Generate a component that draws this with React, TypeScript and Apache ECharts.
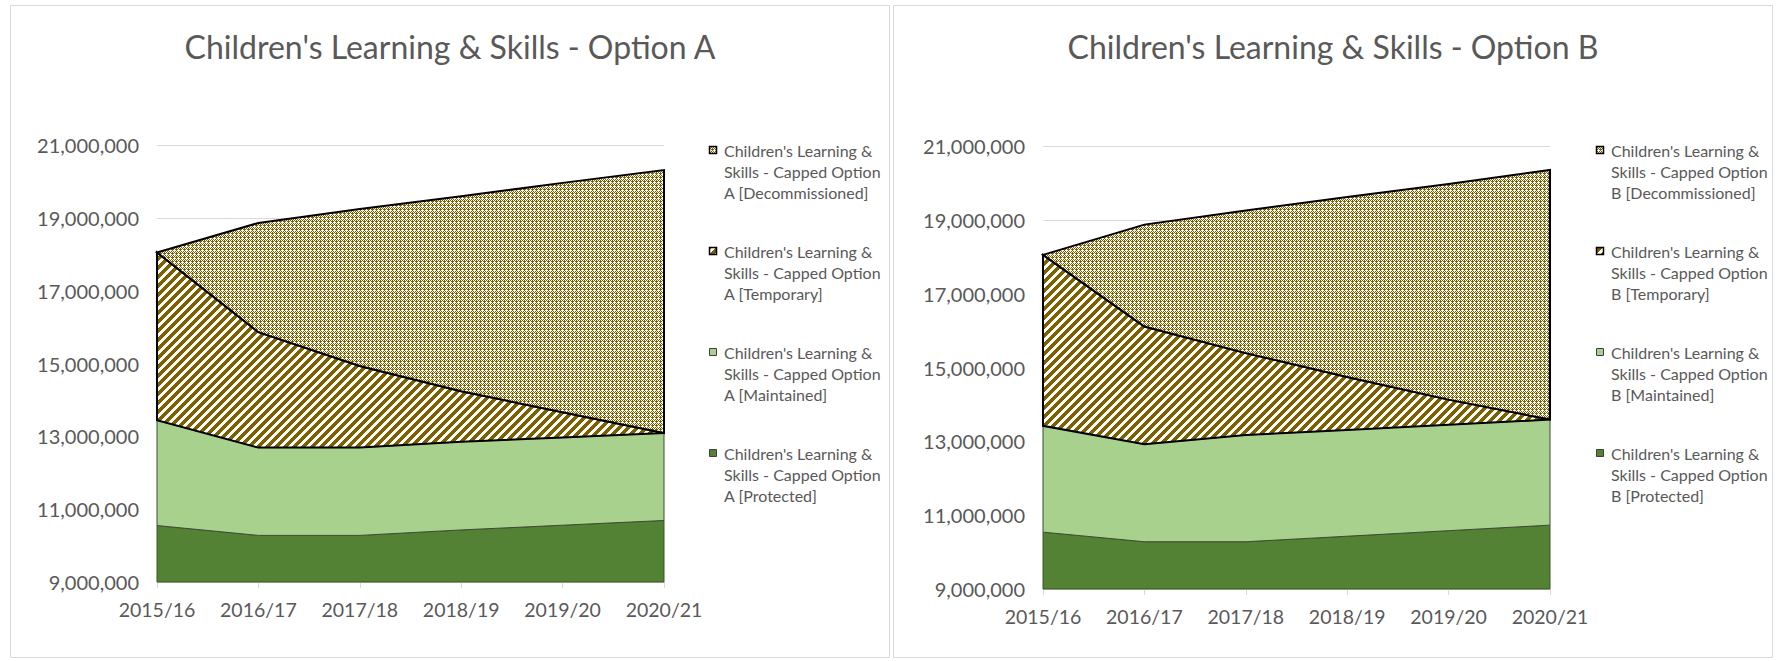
import React, { useEffect, useRef } from "react";
import * as echarts from "echarts";

const categories = ["2015/16", "2016/17", "2017/18", "2018/19", "2019/20", "2020/21"];
const Y_MIN = 9000000;
const Y_MAX = 21000000;
const Y_STEP = 2000000;

// Option A (band values, stacked bottom to top)
const protectedA = [10550000, 10280000, 10280000, 10430000, 10560000, 10690000];
const maintainedA = [2890000, 2410000, 2410000, 2420000, 2410000, 2400000];
const temporaryA = [4610000, 3170000, 2240000, 1390000, 690000, 0];
const decommissionedA = [0, 3000000, 4310000, 5350000, 6300000, 7220000];

// Option B
const protectedB = [10540000, 10280000, 10280000, 10430000, 10580000, 10730000];
const maintainedB = [2880000, 2640000, 2890000, 2880000, 2870000, 2860000];
const temporaryB = [4630000, 3190000, 2220000, 1430000, 680000, 0];
const decommissionedB = [0, 2760000, 3860000, 4880000, 5840000, 6760000];

const titles = ["Children's Learning & Skills - Option A", "Children's Learning & Skills - Option B"];
const bandKinds = ["Protected", "Maintained", "Temporary", "Decommissioned"];
const seriesName = (opt: string, kind: string) => `Children's Learning & Skills - Capped Option ${opt} [${kind}]`;

const FONT = "Lato";
const TEXT = "#595959";
const GRIDLINE = "#d9d9d9";

function wrap(s: string, max: number) {
  const words = s.split(" ");
  const lines: string[] = [];
  let cur = "";
  for (const w of words) {
    if (cur && (cur + " " + w).length > max) {
      lines.push(cur);
      cur = w;
    } else cur = cur ? cur + " " + w : w;
  }
  if (cur) lines.push(cur);
  return lines.join("\n");
}

function makeTile(size: number, fn: (x: number, y: number) => boolean) {
  const c = document.createElement("canvas");
  c.width = size;
  c.height = size;
  const ctx = c.getContext("2d")!;
  const img = ctx.createImageData(size, size);
  for (let y = 0; y < size; y++)
    for (let x = 0; x < size; x++) {
      const k = (y * size + x) * 4;
      const on = fn(x, y);
      img.data[k] = on ? 127 : 255;
      img.data[k + 1] = on ? 96 : 255;
      img.data[k + 2] = on ? 0 : 255;
      img.data[k + 3] = 255;
    }
  ctx.putImageData(img, 0, 0);
  return { image: c, repeat: "repeat", imageWidth: size, imageHeight: size } as any;
}

export default function App() {
  const ref = useRef<HTMLDivElement>(null);
  useEffect(() => {
    if (!ref.current) return;
    const chart = echarts.init(ref.current, null, { renderer: "svg" });

    const dotted = makeTile(8, (x, y) => {
      if (x % 4 === 2 && y % 4 === 2) return false;
      if ((x + y) % 2 === 0) return true;
      if (x % 4 === 0 && y % 4 === 1) return true;
      return false;
    });
    const stripes = makeTile(9, (x, y) => (x + y) % 9 < 5);

    const styles = [
      { fill: "#548235", stroke: "#385723", lineWidth: 1 },
      { fill: "#a9d18e", stroke: "#3f4a36", lineWidth: 1 },
      { fill: stripes, stroke: "#000000", lineWidth: 2 },
      { fill: dotted, stroke: "#000000", lineWidth: 2 },
    ];

    const clamp = (v: number) => Math.max(Y_MIN, Math.min(Y_MAX, v));

    const charts = [
      {
        opt: "A",
        bands: [protectedA, maintainedA, temporaryA, decommissionedA],
        grid: { left: 157, top: 145, width: 507, height: 437 },
        frame: { x: 10.5, y: 5.5, width: 879, height: 652 },
        legendKeyX: 709,
        legendTextX: 724,
      },
      {
        opt: "B",
        bands: [protectedB, maintainedB, temporaryB, decommissionedB],
        grid: { left: 1043, top: 146, width: 507, height: 443 },
        frame: { x: 893.5, y: 5.5, width: 879, height: 652 },
        legendKeyX: 1596,
        legendTextX: 1611,
      },
    ];

    const grids: any[] = [];
    const xAxes: any[] = [];
    const yAxes: any[] = [];
    const series: any[] = [];
    const graphics: any[] = [];

    charts.forEach((c, gi) => {
      grids.push({ ...c.grid, containLabel: false });
      xAxes.push({
        type: "category",
        gridIndex: gi,
        data: categories,
        boundaryGap: false,
        axisLine: { lineStyle: { color: GRIDLINE, width: 1 } },
        axisTick: { show: true, length: 6, interval: 0, lineStyle: { color: GRIDLINE } },
        axisLabel: { color: TEXT, fontFamily: FONT, fontSize: 19.5, margin: 17, interval: 0 },
        splitLine: { show: false },
      });
      yAxes.push({
        type: "value",
        gridIndex: gi,
        min: Y_MIN,
        max: Y_MAX,
        interval: Y_STEP,
        axisLine: { show: false },
        axisTick: { show: false },
        axisLabel: {
          color: TEXT,
          fontFamily: FONT,
          fontSize: 20,
          margin: 18,
          formatter: (v: number) => v.toLocaleString("en-US"),
        },
        splitLine: { lineStyle: { color: GRIDLINE, width: 1 } },
      });

      let lower = categories.map(() => 0);
      c.bands.forEach((band, bi) => {
        const upper = lower.map((v, i) => v + band[i]);
        const st = styles[bi];
        const lo = lower;
        series.push({
          type: "custom",
          name: seriesName(c.opt, bandKinds[bi]),
          xAxisIndex: gi,
          yAxisIndex: gi,
          silent: true,
          data: categories.map((_, i) => [i, lo[i], upper[i]]),
          encode: { x: 0, y: [1, 2] },
          renderItem: (params: any, api: any) => {
            if (params.dataIndex !== 0) return null;
            const top: number[][] = [];
            const bottom: number[][] = [];
            for (let j = 0; j < categories.length; j++) {
              const x = api.value(0, j);
              top.push(api.coord([x, clamp(api.value(2, j))]));
              bottom.push(api.coord([x, clamp(api.value(1, j))]));
            }
            return {
              type: "polygon",
              shape: { points: top.concat(bottom.reverse()) },
              style: { fill: st.fill, stroke: st.stroke, lineWidth: st.lineWidth, lineJoin: "miter" },
            };
          },
        });
        lower = upper;
      });

      // frame
      graphics.push({
        type: "rect",
        shape: c.frame,
        style: { fill: "none", stroke: GRIDLINE, lineWidth: 1 },
        silent: true,
      });
      // title
      graphics.push({
        type: "text",
        x: c.frame.x + c.frame.width / 2,
        y: 46,
        style: {
          text: titles[gi],
          font: `32px ${FONT}`,
          fill: TEXT,
          align: "center",
          verticalAlign: "middle",
        },
      });
      // legend (top to bottom: reverse stacking order)
      [3, 2, 1, 0].forEach((bi, k) => {
        const cy = 150 + k * 101;
        const st = styles[bi];
        graphics.push({
          type: "rect",
          shape: { x: c.legendKeyX + 0.5, y: cy - 3.5, width: 7, height: 7 },
          style: { fill: st.fill, stroke: bi >= 2 ? "#000" : "#404040", lineWidth: bi >= 2 ? 1.5 : 1 },
          silent: true,
        });
        graphics.push({
          type: "text",
          x: c.legendTextX,
          y: cy - 10.5,
          style: {
            text: wrap(seriesName(c.opt, bandKinds[bi]), 22),
            font: `16px ${FONT}`,
            fill: TEXT,
            lineHeight: 21,
            align: "left",
            verticalAlign: "top",
          },
        });
      });
    });

    chart.setOption({
      animation: false,
      backgroundColor: "#ffffff",
      grid: grids,
      xAxis: xAxes,
      yAxis: yAxes,
      series,
      graphic: graphics,
    });
    return () => chart.dispose();
  }, []);

  return (
    <div
      ref={ref}
      style={{ position: "absolute", left: 0, top: 0, width: 1783, height: 661 }}
    />
  );
}
